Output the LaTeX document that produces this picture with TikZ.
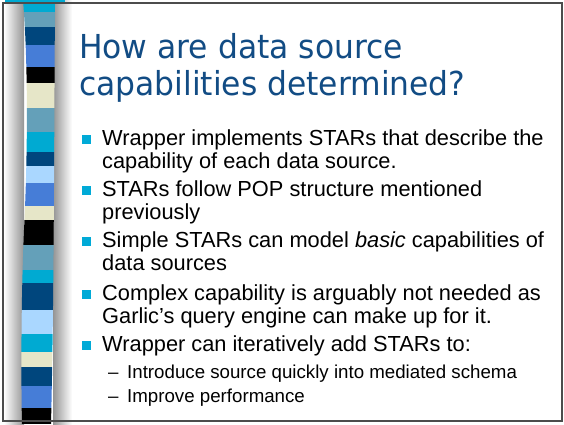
\documentclass[tikz,border=0pt]{standalone}
\usepackage{fontspec}
\setmainfont{Liberation Sans}
\newfontfamily\titlefont[FakeStretch=0.95]{DejaVu Sans}
\usetikzlibrary{positioning}

\definecolor{titleblue}{RGB}{18,76,132}
\definecolor{bulletcyan}{RGB}{0,170,215}
\definecolor{stripecyan}{RGB}{0,170,210}
\definecolor{stripesteel}{RGB}{100,160,185}
\definecolor{stripenavy}{RGB}{0,70,125}
\definecolor{stripemid}{RGB}{70,125,215}
\definecolor{stripecream}{RGB}{230,230,200}
\definecolor{stripelight}{RGB}{170,215,255}

\tikzset{
  item/.style={anchor=base west, inner sep=0pt, font=\fontsize{21.8}{24}\selectfont},
  subitem/.style={anchor=base west, inner sep=0pt, font=\fontsize{18.7}{22}\selectfont},
  heading/.style={anchor=base west, inner sep=0pt, text=titleblue, font=\titlefont\fontsize{33}{37}\selectfont},
  sqbullet/.style={fill=bulletcyan, minimum size=9pt, inner sep=0pt},
}

\begin{document}
\begin{tikzpicture}[x=1pt, y=-1pt]
  \useasboundingbox (0,0) rectangle (564,424);
  \fill[white] (0,0) rectangle (564,424);

  % soft grey shading on both sides of the band
  \shade[left color=white, right color=black!42] (4,0) rectangle (24,424);
  \shade[left color=black!42, right color=white] (53,0) rectangle (72,424);

  % coloured band
  \begin{scope}
    \clip (23,0) .. controls (28,60) and (28,150) .. (24,230)
                 .. controls (21,300) and (21,380) .. (22,424)
          -- (51,424) .. controls (54,300) and (54,150) .. (55,0) -- cycle;
    \foreach \top/\bot/\col in {0/12/stripecyan, 12/27/stripesteel, 27/45/stripenavy,
        45/67/stripemid, 67/83/black, 83/108/stripecream, 108/132/stripesteel,
        132/152/stripecyan, 152/166/stripenavy, 166/183/stripelight, 183/206/stripemid,
        206/220/stripecream, 220/245/black, 245/270/stripesteel, 270/283/stripecyan,
        283/310/stripenavy, 310/334/stripelight, 334/352/stripecyan, 352/367/stripecream,
        367/386/stripenavy, 386/408/stripemid, 408/424/black}{
      \fill[\col] (20,\top) rectangle (58,\bot+0.3);
    }
  \end{scope}

  % frame
  \draw[black!70, line width=1.2pt] (3,421) -- (3,3) -- (562,3) -- (562,421) -- cycle;
  \draw[stripecyan, line width=1.5pt] (5,1) -- (65,1);

  % title
  \node[heading] (title1) at (79,58) {How are data source};
  \node[heading] (title2) at (79,95) {capabilities determined?};

  % bullets
  \foreach \y [count=\i] in {145,196,247,300,351}{
    \node[sqbullet] (bullet\i) at (86.5,\y-5.5) {};
  }
  \node[item] (item1a) at (102,145) {Wrapper implements STARs that describe the};
  \node[item] (item1b) at (102,168) {capability of each data source.};
  \node[item] (item2a) at (102,196) {STARs follow POP structure mentioned};
  \node[item] (item2b) at (102,219) {previously};
  \node[item] (item3a) at (102,247) {Simple STARs can model \textit{basic} capabilities of};
  \node[item] (item3b) at (102,270) {data sources};
  \node[item] (item4a) at (102,300) {Complex capability is arguably not needed as};
  \node[item] (item4b) at (102,323) {Garlic’s query engine can make up for it.};
  \node[item] (item5a) at (102,351) {Wrapper can iteratively add STARs to:};

  % sub items
  \node[subitem] (dash1) at (108,378) {–};
  \node[subitem] (sub1) at (127,378) {Introduce source quickly into mediated schema};
  \node[subitem] (dash2) at (108,402) {–};
  \node[subitem] (sub2) at (127,402) {Improve performance};
\end{tikzpicture}
\end{document}
